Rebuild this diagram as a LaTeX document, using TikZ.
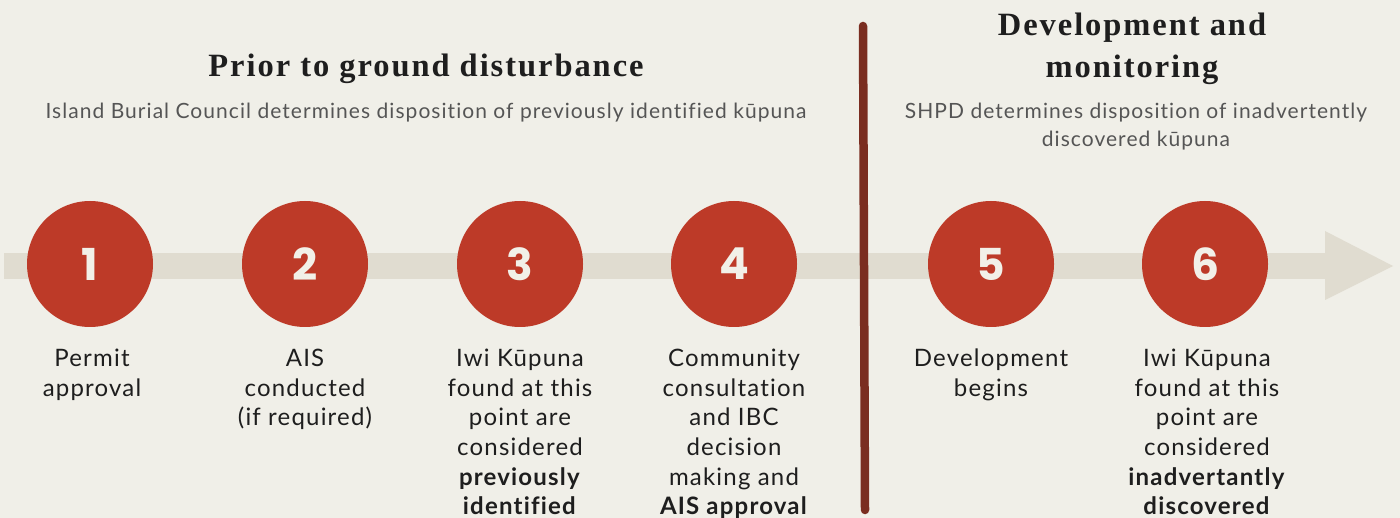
\documentclass[tikz,border=0pt]{standalone}
\usepackage{fontspec}
\setmainfont{Lato}[LetterSpace=5,Ligatures=NoCommon]
\newfontfamily\titlefont[LetterSpace=6]{Liberation Serif}
\newfontfamily\numfont{Poppins}
\usetikzlibrary{positioning}
\definecolor{bg}{HTML}{F0EFE8}
\definecolor{band}{HTML}{E0DCD0}
\definecolor{red}{HTML}{BD3A28}
\definecolor{divider}{HTML}{7A2D20}
\definecolor{txt}{HTML}{1E1E1E}
\definecolor{subtxt}{HTML}{555555}
\definecolor{numtxt}{HTML}{F2F0E8}
\tikzset{
  stepcircle/.style={circle, fill=red, minimum size=126pt, inner sep=0pt,
    text=numtxt, font=\numfont\bfseries\fontsize{44}{44}\selectfont},
  steplabel/.style={anchor=north, align=center, inner sep=0pt, text=txt,
    font=\fontsize{24}{29.6}\selectfont},
  headtitle/.style={align=center, inner sep=0pt, text=txt,
    font=\titlefont\bfseries\fontsize{32.5}{42}\selectfont},
  subtitle/.style={align=center, inner sep=0pt, text=subtxt,
    font=\fontsize{21}{28}\selectfont},
}
\begin{document}
\begin{tikzpicture}[x=1pt,y=-1pt]
\fill[bg] (0,0) rectangle (1400,518);
\useasboundingbox (0,0) rectangle (1400,518);
% track
\fill[band] (4,253) rectangle (1326,279);
\fill[band] (1325,231) -- (1393,266) -- (1325,300) -- cycle;
% divider
\coordinate (dtop) at (863,26);
\coordinate (dbot) at (865,510);
\draw[divider, line width=8.5pt, line cap=round] (dtop) -- (dbot);
% titles
\node[headtitle] (t1) at (426,69) {Prior to ground disturbance};
\node[subtitle] (s1) at (426,113) {Island Burial Council determines disposition of previously identified kūpuna};
\node[headtitle] (t2) at (1132,49) {Development and\\monitoring};
\node[subtitle] (s2) at (1136,127) {SHPD determines disposition of inadvertently\\discovered kūpuna};
% circles
\node[stepcircle] (c1) at (90,264) {1};
\node[stepcircle] (c2) at (305,264) {2};
\node[stepcircle] (c3) at (520,264) {3};
\node[stepcircle] (c4) at (734,264) {4};
\node[stepcircle] (c5) at (991,264) {5};
\node[stepcircle] (c6) at (1205,264) {6};
% labels
\node[steplabel] (l1) at (92,349) {Permit\\approval};
\node[steplabel] (l2) at (305,349) {AIS\\conducted\\(if required)};
\node[steplabel] (l3) at (520,349) {Iwi Kūpuna\\found at this\\point are\\considered\\\textbf{previously}\\\textbf{identified}};
\node[steplabel] (l4) at (734,349) {Community\\consultation\\and IBC\\decision\\making and\\\textbf{AIS approval}};
\node[steplabel] (l5) at (991,349) {Development\\begins};
\node[steplabel] (l6) at (1207,349) {Iwi Kūpuna\\found at this\\point are\\considered\\\textbf{inadvertantly}\\\textbf{discovered}};
\end{tikzpicture}
\end{document}
